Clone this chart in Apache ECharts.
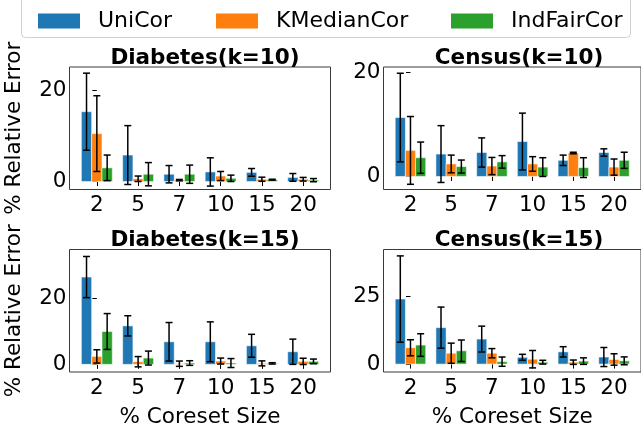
<!DOCTYPE html>
<html>
<head>
<meta charset="utf-8">
<script src="https://cdn.jsdelivr.net/npm/echarts@6/dist/echarts.min.js"></script>
<style>
  html, body { margin: 0; padding: 0; background: #fff; }
  #chart { width: 641px; height: 429px; }
</style>
</head>
<body>
<div id="chart"></div>
<script>
// Coreset size categories (percent) and method names
const coresetSizes = ['2', '5', '7', '10', '15', '20'];
const methods = ['UniCor', 'KMedianCor', 'IndFairCor'];
const methodColors = ['#1f77b4', '#ff7f0e', '#2ca02c'];

// Diabetes, k = 10: mean relative error and std per method
const diabetesK10Mean = [
  [15.3, 5.8, 1.6, 2.1, 2.0, 0.9],
  [10.5, 0.6, 0.3, 1.2, 0.5, 0.5],
  [3.0, 1.6, 1.6, 0.7, 0.4, 0.3]
];
const diabetesK10Std = [
  [8.45, 6.45, 1.9, 3.1, 0.85, 0.85],
  [8.3, 0.6, 0.15, 1.0, 0.45, 0.4],
  [2.8, 2.55, 2.0, 0.7, 0.1, 0.35]
];

// Census, k = 10
const censusK10Mean = [
  [11.3, 4.3, 4.6, 6.7, 3.1, 4.6],
  [5.0, 2.4, 2.0, 2.4, 4.5, 1.8],
  [3.6, 1.9, 2.8, 1.8, 1.7, 3.1]
];
const censusK10Std = [
  [8.5, 5.45, 2.8, 5.45, 1.0, 0.7],
  [6.5, 1.7, 1.65, 1.4, 0.15, 1.55],
  [3.0, 1.25, 1.2, 1.8, 1.9, 1.55]
];

// Diabetes, k = 15
const diabetesK15Mean = [
  [26.3, 11.6, 6.8, 6.8, 5.6, 3.8],
  [2.4, 0.8, 0.2, 1.0, 0.3, 0.9],
  [9.9, 1.9, 0.4, 0.4, 0.3, 0.9]
];
const diabetesK15Std = [
  [6.2, 3.05, 5.8, 6.0, 3.45, 3.8],
  [2.0, 1.55, 0.8, 0.9, 0.75, 0.95],
  [5.4, 2.1, 0.7, 1.35, 0.2, 0.7]
];

// Census, k = 15
const censusK15Mean = [
  [23.9, 13.4, 9.2, 2.5, 4.5, 2.6],
  [6.0, 4.0, 4.0, 1.8, 0.7, 1.7],
  [7.0, 4.9, 0.9, 0.7, 1.1, 1.2]
];
const censusK15Std = [
  [15.85, 7.55, 4.75, 1.1, 1.9, 3.5],
  [2.95, 3.7, 1.7, 3.2, 0.8, 2.1],
  [4.15, 3.95, 1.7, 0.7, 1.2, 1.45]
];

// Y tick values per panel
const diabetesK10Ticks = [0, 20];
const censusK10Ticks = [0, 20];
const diabetesK15Ticks = [0, 20];
const censusK15Ticks = [0, 25];

const FONT = 'DejaVu Sans';
const BAR_W = 0.25;
const CAP = 3.5;

const panels = [
  { title: 'Diabetes(k=10)', mean: diabetesK10Mean, std: diabetesK10Std, ticks: diabetesK10Ticks,
    yMin: -1.75, yMax: 25.1, left: 69.5, top: 67, leftCol: true, bottomRow: false },
  { title: 'Census(k=10)', mean: censusK10Mean, std: censusK10Std, ticks: censusK10Ticks,
    yMin: -2.5, yMax: 21.0, left: 383.5, top: 67, leftCol: false, bottomRow: false },
  { title: 'Diabetes(k=15)', mean: diabetesK15Mean, std: diabetesK15Std, ticks: diabetesK15Ticks,
    yMin: -2.3, yMax: 34.6, left: 69.5, top: 249.5, leftCol: true, bottomRow: true },
  { title: 'Census(k=15)', mean: censusK15Mean, std: censusK15Std, ticks: censusK15Ticks,
    yMin: -2.9, yMax: 42.1, left: 383.5, top: 249.5, leftCol: false, bottomRow: true }
];
const GRID_W = 261;
const GRID_H = 122.5;

function makeRenderer(offset, color) {
  return function (params, api) {
    const x = api.value(0) + offset;
    const v = api.value(1);
    const e = api.value(2);
    const p0 = api.coord([x - BAR_W / 2, v]);
    const p1 = api.coord([x + BAR_W / 2, 0]);
    const top = api.coord([x, v + e]);
    const bot = api.coord([x, v - e]);
    return {
      type: 'group',
      children: [
        { type: 'rect',
          shape: { x: p0[0], y: Math.min(p0[1], p1[1]), width: p1[0] - p0[0], height: Math.abs(p1[1] - p0[1]) },
          style: { fill: color, stroke: 'rgba(255,255,255,0.55)', lineWidth: 1 } },
        { type: 'line', shape: { x1: top[0], y1: top[1], x2: bot[0], y2: bot[1] },
          style: { stroke: '#000', lineWidth: 1.5 } },
        { type: 'line', shape: { x1: top[0] - CAP, y1: top[1], x2: top[0] + CAP, y2: top[1] },
          style: { stroke: '#000', lineWidth: 1.5 } },
        { type: 'line', shape: { x1: bot[0] - CAP, y1: bot[1], x2: bot[0] + CAP, y2: bot[1] },
          style: { stroke: '#000', lineWidth: 1.5 } }
      ]
    };
  };
}

const grids = [], xAxes = [], yAxes = [], titles = [], series = [];
panels.forEach(function (p, i) {
  grids.push({ left: p.left, top: p.top, width: GRID_W, height: GRID_H,
    show: true, borderColor: '#3a3a3a', borderWidth: 1, backgroundColor: 'transparent' });
  xAxes.push({
    type: 'value', gridIndex: i, min: -0.6625, max: 5.6625,
    axisLine: { show: false }, splitLine: { show: false },
    axisTick: { show: true, length: 4.5, customValues: [0, 1, 2, 3, 4, 5], lineStyle: { color: '#000' } },
    axisLabel: { customValues: [0, 1, 2, 3, 4, 5], formatter: function (v) { return coresetSizes[v]; },
      fontFamily: FONT, fontSize: 21.5, color: '#000', margin: 5 },
    name: p.bottomRow ? '% Coreset Size' : '', nameLocation: 'middle', nameGap: 34,
    nameTextStyle: { fontFamily: FONT, fontSize: 21.5, color: '#000' }
  });
  yAxes.push({
    type: 'value', gridIndex: i, min: p.yMin, max: p.yMax,
    axisLine: { show: false }, splitLine: { show: false },
    axisTick: { show: true, length: 4.5, customValues: p.ticks, lineStyle: { color: '#000' } },
    axisLabel: { customValues: p.ticks, fontFamily: FONT, fontSize: 21.5, color: '#000', margin: 3 },
    name: p.leftCol ? '% Relative Error' : '', nameLocation: 'middle', nameGap: 44,
    nameTextStyle: { fontFamily: FONT, fontSize: 21.5, color: '#000' }
  });
  titles.push({ text: p.title, left: p.left + GRID_W / 2, top: p.top - 25, textAlign: 'center',
    textStyle: { fontFamily: FONT, fontSize: 21.5, fontWeight: 'bold', color: '#000' } });
  methods.forEach(function (m, k) {
    series.push({
      type: 'custom', name: m, xAxisIndex: i, yAxisIndex: i,
      itemStyle: { color: methodColors[k] },
      renderItem: makeRenderer((k - 1) * BAR_W, methodColors[k]),
      encode: { x: 0, y: 1 },
      data: coresetSizes.map(function (c, j) { return [j, p.mean[k][j], p.std[k][j]]; }),
      z: 2 + k
    });
  });
});

// Legend: one entry per method, laid out in a single row
const legendLefts = [33, 211, 446];
const legends = methods.map(function (m, k) {
  return { data: [{ name: m, icon: 'rect' }], left: legendLefts[k], top: 5,
    itemWidth: 42, itemHeight: 15, itemGap: 0,
    textStyle: { fontFamily: FONT, fontSize: 22, color: '#000', padding: [0, 0, 0, 13] } };
});

const chart = echarts.init(document.getElementById('chart'), null, { renderer: 'canvas' });
chart.setOption({
  animation: false,
  backgroundColor: '#fff',
  title: titles,
  legend: legends,
  grid: grids,
  xAxis: xAxes,
  yAxis: yAxes,
  series: series,
  graphic: [{
    type: 'rect', left: 21, top: -6, shape: { width: 609, height: 43, r: 4 },
    style: { fill: 'rgba(255,255,255,0.8)', stroke: '#d0d0d0', lineWidth: 1 }, z: -1
  }]
});
</script>
</body>
</html>
